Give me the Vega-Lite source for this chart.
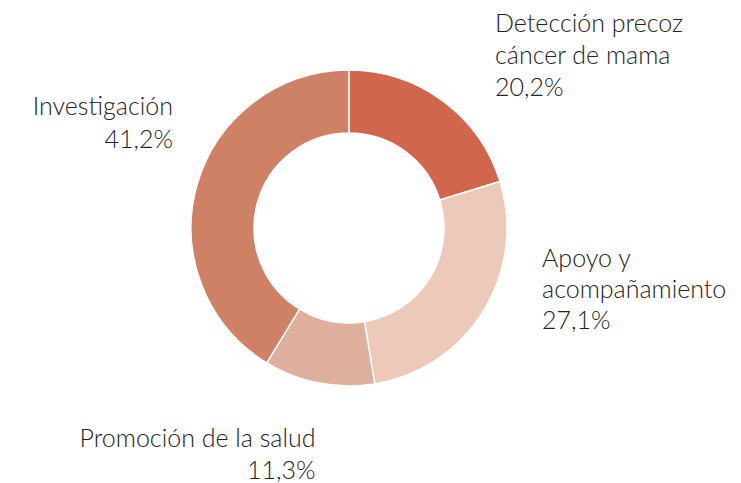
{
  "$schema": "https://vega.github.io/schema/vega-lite/v6.json",
  "width": 698,
  "height": 456,
  "autosize": "none",
  "padding": {"left": 0, "top": 0, "right": 43, "bottom": 27},
  "background": "white",
  "data": {
    "values": [
      {"cat": "Detección precoz cáncer de mama", "value": 20.2, "order": 1, "label": "Detección precoz\ncáncer de mama\n20,2%"},
      {"cat": "Apoyo y acompañamiento", "value": 27.1, "order": 2, "label": "Apoyo y\nacompañamiento\n27,1%"},
      {"cat": "Promoción de la salud", "value": 11.3, "order": 3, "label": "Promoción de la salud\n11,3%"},
      {"cat": "Investigación", "value": 41.2, "order": 4, "label": "Investigación\n41,2%"}
    ]
  },
  "transform": [
    {"stack": "value", "groupby": [], "sort": [{"field": "order"}], "as": ["t0", "t1"]},
    {"calculate": "(datum.t0 + datum.t1) / 2", "as": "mid"}
  ],
  "layer": [
    {
      "mark": {"type": "arc", "outerRadius": 158, "innerRadius": 95, "stroke": "#ffffff", "strokeWidth": 1.5},
      "encoding": {
        "theta": {"field": "t0", "type": "quantitative", "stack": null, "scale": {"domain": [0, 99.8]}},
        "theta2": {"field": "t1"},
        "color": {
          "field": "cat", "type": "nominal", "legend": null,
          "scale": {
            "domain": ["Detección precoz cáncer de mama", "Apoyo y acompañamiento", "Promoción de la salud", "Investigación"],
            "range": ["#d0664c", "#ecc9b8", "#deaf9d", "#ce8165"]
          }
        }
      }
    },
    {
      "transform": [{"filter": "datum.order == 1"}],
      "mark": {"type": "text", "radius": 160, "align": "left", "baseline": "alphabetic", "dx": 51, "dy": -67, "fontSize": 25, "lineHeight": 32, "font": "Lato", "fontWeight": 300, "color": "#222222", "lineBreak": "\n"},
      "encoding": {"theta": {"field": "mid", "type": "quantitative", "stack": null}, "text": {"field": "label"}}
    },
    {
      "transform": [{"filter": "datum.order == 2"}],
      "mark": {"type": "text", "radius": 160, "align": "left", "baseline": "alphabetic", "dx": 57, "dy": -45, "fontSize": 25, "lineHeight": 31, "font": "Lato", "fontWeight": 300, "color": "#222222", "lineBreak": "\n"},
      "encoding": {"theta": {"field": "mid", "type": "quantitative", "stack": null}, "text": {"field": "label"}}
    },
    {
      "transform": [{"filter": "datum.order == 3"}],
      "mark": {"type": "text", "radius": 160, "align": "right", "baseline": "alphabetic", "dx": -3, "dy": 62, "fontSize": 25, "lineHeight": 32, "font": "Lato", "fontWeight": 300, "color": "#222222", "lineBreak": "\n"},
      "encoding": {"theta": {"field": "mid", "type": "quantitative", "stack": null}, "text": {"field": "label"}}
    },
    {
      "transform": [{"filter": "datum.order == 4"}],
      "mark": {"type": "text", "radius": 160, "align": "right", "baseline": "alphabetic", "dx": -22, "dy": -70, "fontSize": 25, "lineHeight": 33, "font": "Lato", "fontWeight": 300, "color": "#222222", "lineBreak": "\n"},
      "encoding": {"theta": {"field": "mid", "type": "quantitative", "stack": null}, "text": {"field": "label"}}
    }
  ],
  "config": {"view": {"stroke": null}}
}
